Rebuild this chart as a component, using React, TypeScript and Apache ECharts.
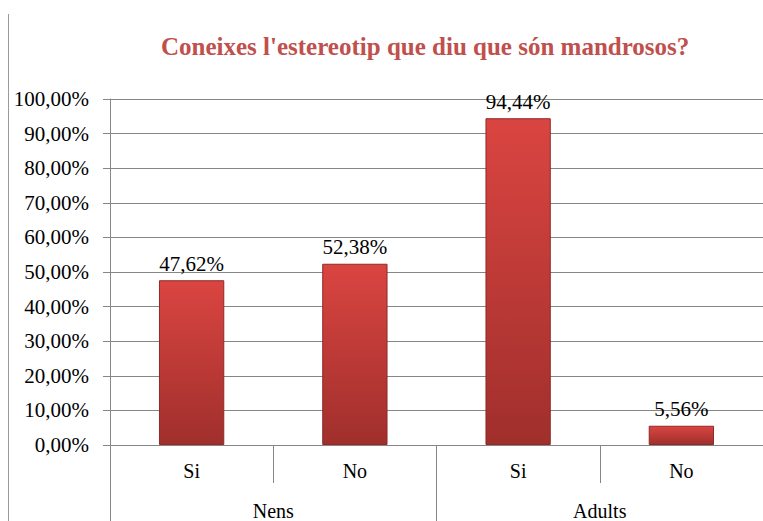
import React, { useEffect, useRef } from "react";
import * as echarts from "echarts";

const categories = ["Si", "No", "Si", "No"];
const groups = ["Nens", "Adults"];
const values = [47.62, 52.38, 94.44, 5.56];
const titleText = "Coneixes l'estereotip que diu que són mandrosos?";

const serif = "Liberation Serif";
const fmt = (v: number) => v.toFixed(2).replace(".", ",") + "%";

export default function App() {
  const ref = useRef<HTMLDivElement>(null);
  useEffect(() => {
    if (!ref.current) return;
    const chart = echarts.init(ref.current, null, { renderer: "svg" });
    const axisColor = "#868686";
    chart.setOption({
      animation: false,
      backgroundColor: "#ffffff",
      title: {
        text: titleText,
        left: 156,
        top: 29,
        textStyle: { fontFamily: serif, fontSize: 25, fontWeight: "bold", color: "#C0504D" },
      },
      graphic: [
        {
          type: "line",
          shape: { x1: 8.5, y1: 14, x2: 8.5, y2: 521 },
          style: { stroke: "#9a9a9a", lineWidth: 1 },
        },
      ],
      grid: { left: 110, width: 664, top: 99, height: 350 },
      xAxis: [
        {
          type: "category",
          data: categories,
          position: "bottom",
          axisLine: { show: true, lineStyle: { color: axisColor } },
          axisTick: { show: true, length: 38, lineStyle: { color: axisColor } },
          axisLabel: { fontFamily: serif, fontSize: 20, color: "#000000", margin: 16 },
        },
        {
          type: "category",
          data: groups,
          position: "bottom",
          axisLine: { show: false },
          axisTick: { show: true, length: 80, lineStyle: { color: axisColor } },
          axisLabel: { fontFamily: serif, fontSize: 20, color: "#000000", margin: 56 },
        },
      ],
      yAxis: {
        type: "value",
        min: 0,
        max: 100,
        interval: 10,
        axisLine: { show: true, lineStyle: { color: axisColor } },
        axisTick: { show: true, length: 7, lineStyle: { color: axisColor } },
        splitLine: { show: true, lineStyle: { color: axisColor } },
        axisLabel: {
          fontFamily: serif,
          fontSize: 21,
          color: "#000000",
          margin: 21,
          formatter: (v: number) => fmt(v),
        },
      },
      series: [
        {
          type: "bar",
          xAxisIndex: 0,
          data: values,
          barWidth: "40%",
          itemStyle: {
            color: new echarts.graphic.LinearGradient(0, 0, 0, 1, [
              { offset: 0, color: "#DA4541" },
              { offset: 1, color: "#A02F2C" },
            ]),
            borderColor: "#8E2A28",
            borderWidth: 1,
          },
          label: {
            show: true,
            position: "top",
            distance: 6,
            fontFamily: serif,
            fontSize: 21,
            color: "#000000",
            formatter: (p: any) => fmt(p.value),
          },
        },
      ],
    });
    return () => chart.dispose();
  }, []);
  return <div ref={ref} style={{ position: "fixed", left: 0, top: 0, width: 763, height: 521 }} />;
}
